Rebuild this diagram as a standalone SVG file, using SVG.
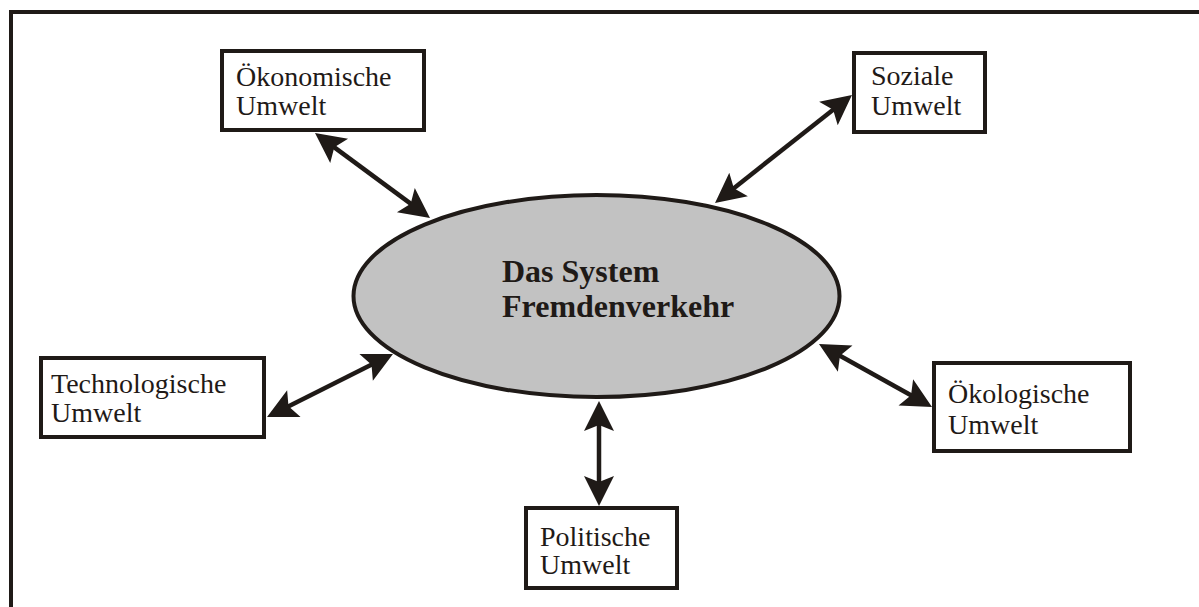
<svg xmlns="http://www.w3.org/2000/svg" width="1199" height="607" viewBox="0 0 1199 607">
  <style>
    .box { fill: #ffffff; stroke: #1f1a17; stroke-width: 4; }
    .lbl { font-family: "Liberation Serif", "Times New Roman", serif; font-size: 28px; fill: #1f1a17; }
    .main { font-family: "Liberation Serif", "Times New Roman", serif; font-size: 32px; font-weight: bold; fill: #1f1a17; }
    .conn { stroke: #1f1a17; stroke-width: 4.5; fill: none; marker-start: url(#ah); marker-end: url(#ah); }
  </style>
  <defs>
    <marker id="ah" markerUnits="userSpaceOnUse" viewBox="-12 -17 36 34" refX="0" refY="0" markerWidth="36" markerHeight="34" orient="auto-start-reverse">
      <path d="M22,0 L-8,-15 L-2,0 L-8,15 Z" fill="#1f1a17"/>
    </marker>
  </defs>
  <rect width="1199" height="607" fill="#ffffff"/>
  <g id="frame">
    <line x1="9" y1="12" x2="1199" y2="12" stroke="#1f1a17" stroke-width="4"/>
    <line x1="11" y1="10" x2="11" y2="607" stroke="#1f1a17" stroke-width="4"/>
  </g>
  <g id="connectors">
    <line class="conn" x1="332.7" y1="146.1" x2="412.3" y2="204.9"/>
    <line class="conn" x1="834.7" y1="108.6" x2="732.3" y2="189.4"/>
    <line class="conn" x1="286.7" y1="407.2" x2="373.3" y2="363.8"/>
    <line class="conn" x1="912.8" y1="396.3" x2="838.2" y2="354.7"/>
    <line class="conn" x1="599" y1="423" x2="599" y2="484"/>
  </g>
  <g id="center">
    <ellipse cx="596.5" cy="296" rx="243" ry="101" fill="#c2c2c2" stroke="#1f1a17" stroke-width="4"/>
    <text class="main" x="502" y="282">Das System</text>
    <text class="main" x="502" y="317">Fremdenverkehr</text>
  </g>
  <g id="oekonomische">
    <rect class="box" x="222" y="51" width="202" height="79"/>
    <text class="lbl" x="236" y="86">Ökonomische</text>
    <text class="lbl" x="236" y="115">Umwelt</text>
  </g>
  <g id="soziale">
    <rect class="box" x="854" y="53" width="131" height="79"/>
    <text class="lbl" x="871" y="85">Soziale</text>
    <text class="lbl" x="871" y="115">Umwelt</text>
  </g>
  <g id="technologische">
    <rect class="box" x="41" y="358" width="223" height="79"/>
    <text class="lbl" x="51" y="393">Technologische</text>
    <text class="lbl" x="51" y="422">Umwelt</text>
  </g>
  <g id="oekologische">
    <rect class="box" x="934" y="363" width="196" height="88"/>
    <text class="lbl" x="948" y="403">Ökologische</text>
    <text class="lbl" x="948" y="434">Umwelt</text>
  </g>
  <g id="politische">
    <rect class="box" x="526" y="508" width="151" height="80"/>
    <text class="lbl" x="540" y="546">Politische</text>
    <text class="lbl" x="540" y="574">Umwelt</text>
  </g>
</svg>
